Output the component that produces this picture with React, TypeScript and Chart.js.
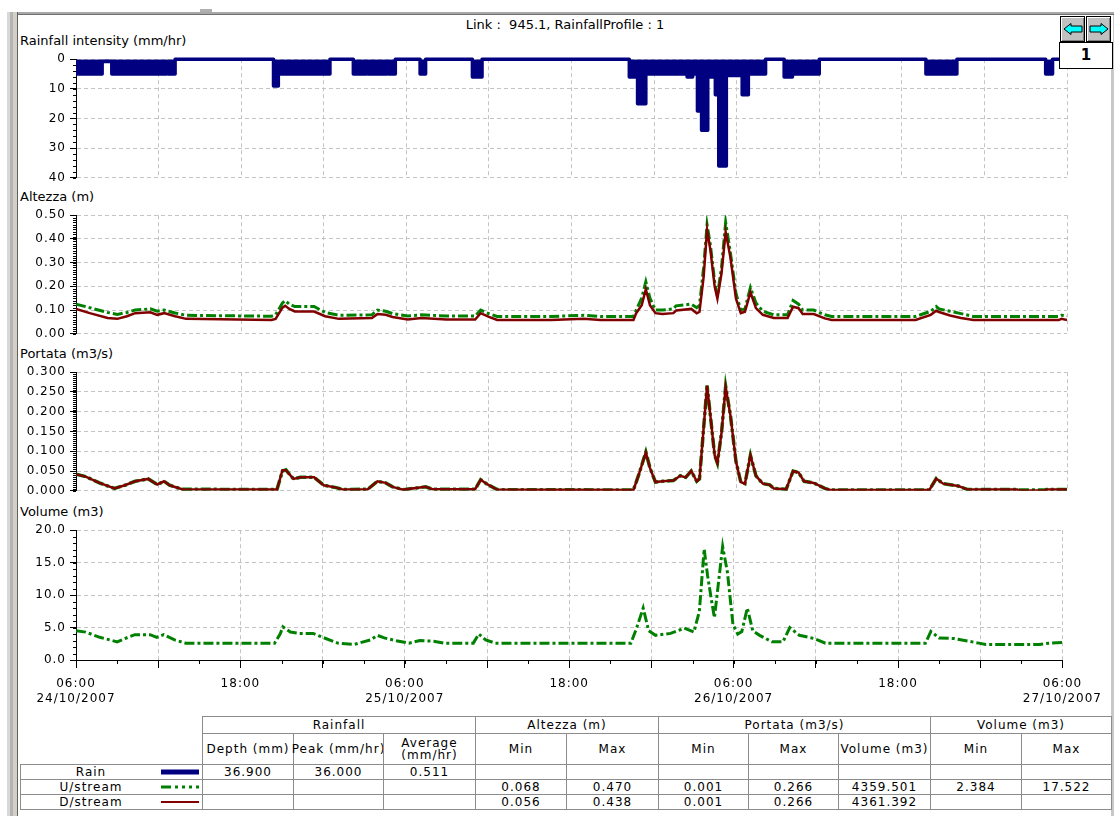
import React, { useEffect, useRef } from 'react';
import { Chart, registerables } from 'chart.js';

Chart.register(...registerables);

const FONT = "'DejaVu Sans', Verdana, sans-serif";

// ---------------- data (hours from 06:00 24/10/2007) ----------------
const rainHours = [0, 1.9, 2.6, 6.6, 6.7, 7.2, 14.35, 14.7, 18.45, 20.15,
  21.1, 21.2, 22.6, 22.7, 23.2, 25.0, 25.4, 28.8, 29.5, 40.2,
  40.8, 41.4, 44.4, 44.8, 45.15, 45.45, 45.9, 46.05, 46.45, 46.7,
  47.25, 48.4, 48.85, 50.1, 51.45, 52.05, 54.0, 61.75, 64.0, 70.45,
  70.95, 72];
const rainIntensity = [5, 0.8, 5, 2, 5, 0, 9, 5, 0, 5,
  2, 5, 2, 5, 0, 5, 0, 6, 0, 6,
  15, 5, 6, 5, 17.5, 24, 5, 6, 12, 36,
  5.5, 12, 5, 0, 6, 5, 0, 5, 0, 5,
  0, 0];

const altezzaHours = [0, 1.0, 2.3, 3.0, 3.7, 4.3, 5.4, 5.9, 6.4, 7.2,
  8.0, 14.2, 14.5, 15.0, 15.2, 15.5, 15.9, 17.3, 18.1, 19.1,
  21.5, 21.9, 22.5, 23.0, 24.1, 25.1, 26.9, 29.0, 29.4, 30.0,
  30.6, 34.5, 36.9, 38.1, 40.5, 40.7, 41.1, 41.4, 41.7, 42.1,
  42.6, 43.4, 43.6, 44.7, 45.1, 45.3, 45.6, 45.85, 46.1, 46.4,
  46.6, 46.9, 47.2, 47.55, 47.95, 48.3, 48.6, 49.0, 49.4, 49.9,
  50.7, 51.7, 52.1, 52.5, 52.8, 53.6, 54.4, 54.9, 61.0, 62.1,
  62.5, 62.7, 63.5, 64.3, 65.2, 71.4, 71.6, 72];
const altezzaDs = [0.105, 0.087, 0.067, 0.063, 0.074, 0.087, 0.091, 0.080, 0.087, 0.074,
  0.063, 0.058, 0.063, 0.110, 0.118, 0.105, 0.094, 0.094, 0.074, 0.063,
  0.067, 0.083, 0.080, 0.071, 0.060, 0.067, 0.060, 0.060, 0.087, 0.071,
  0.058, 0.058, 0.063, 0.058, 0.058, 0.087, 0.120, 0.188, 0.120, 0.087,
  0.083, 0.087, 0.098, 0.105, 0.087, 0.093, 0.240, 0.438, 0.350, 0.200,
  0.148, 0.255, 0.430, 0.320, 0.148, 0.087, 0.093, 0.175, 0.108, 0.080,
  0.067, 0.067, 0.114, 0.108, 0.083, 0.083, 0.065, 0.058, 0.058, 0.080,
  0.097, 0.092, 0.077, 0.067, 0.058, 0.058, 0.063, 0.058];
const altezzaUs = [0.125, 0.110, 0.090, 0.082, 0.090, 0.100, 0.105, 0.095, 0.100, 0.088,
  0.078, 0.074, 0.080, 0.130, 0.140, 0.125, 0.115, 0.115, 0.090, 0.078,
  0.080, 0.100, 0.095, 0.085, 0.075, 0.080, 0.075, 0.075, 0.100, 0.085,
  0.073, 0.073, 0.078, 0.073, 0.073, 0.100, 0.150, 0.220, 0.150, 0.100,
  0.100, 0.105, 0.118, 0.125, 0.110, 0.120, 0.280, 0.460, 0.370, 0.220,
  0.160, 0.280, 0.470, 0.340, 0.170, 0.100, 0.105, 0.195, 0.130, 0.095,
  0.080, 0.080, 0.140, 0.125, 0.100, 0.100, 0.080, 0.073, 0.073, 0.095,
  0.115, 0.105, 0.095, 0.085, 0.073, 0.073, 0.078, 0.075];

const portataHours = [0, 0.7, 1.7, 2.8, 3.55, 4.3, 5.25, 5.9, 6.4, 6.8,
  7.7, 14.6, 15.0, 15.25, 15.8, 16.3, 17.3, 18.0, 18.9, 19.4,
  21.2, 21.9, 22.5, 23.0, 23.8, 25.4, 25.9, 29.0, 29.4, 29.9,
  30.6, 40.5, 40.9, 41.4, 41.7, 42.1, 42.6, 43.4, 43.9, 44.3,
  44.7, 45.1, 45.3, 45.85, 46.1, 46.4, 46.6, 46.9, 47.2, 47.55,
  47.95, 48.3, 48.6, 49.0, 49.4, 49.9, 50.4, 50.7, 51.6, 52.1,
  52.5, 52.9, 53.6, 54.4, 54.8, 62.0, 62.5, 63.0, 64.1, 64.8,
  68.4, 68.5, 70.4, 70.5, 72];
const portataDs = [0.042, 0.036, 0.020, 0.006, 0.014, 0.024, 0.030, 0.016, 0.024, 0.014,
  0.004, 0.003, 0.052, 0.052, 0.030, 0.034, 0.034, 0.014, 0.008, 0.003,
  0.004, 0.024, 0.020, 0.010, 0.003, 0.010, 0.004, 0.004, 0.028, 0.016,
  0.003, 0.002, 0.042, 0.097, 0.058, 0.022, 0.024, 0.026, 0.038, 0.034,
  0.050, 0.024, 0.030, 0.266, 0.187, 0.090, 0.070, 0.147, 0.262, 0.190,
  0.074, 0.022, 0.018, 0.090, 0.038, 0.018, 0.015, 0.006, 0.004, 0.050,
  0.046, 0.024, 0.020, 0.006, 0.002, 0.002, 0.031, 0.018, 0.012, 0.003,
  0.003, 0.001, 0.001, 0.003, 0.003];
const portataUs = [0.042, 0.036, 0.020, 0.006, 0.014, 0.024, 0.030, 0.016, 0.024, 0.014,
  0.004, 0.003, 0.050, 0.053, 0.030, 0.034, 0.034, 0.014, 0.008, 0.003,
  0.004, 0.024, 0.020, 0.010, 0.003, 0.010, 0.004, 0.004, 0.028, 0.016,
  0.003, 0.002, 0.042, 0.098, 0.058, 0.022, 0.024, 0.026, 0.038, 0.034,
  0.050, 0.024, 0.030, 0.266, 0.187, 0.090, 0.070, 0.147, 0.264, 0.190,
  0.074, 0.022, 0.018, 0.090, 0.038, 0.018, 0.015, 0.006, 0.004, 0.050,
  0.046, 0.024, 0.020, 0.006, 0.002, 0.002, 0.031, 0.018, 0.012, 0.003,
  0.003, 0.002, 0.002, 0.003, 0.003];

const volumeHours = [0, 0.7, 1.74, 3.0, 3.8, 4.3, 5.4, 5.9, 6.4, 7.2,
  8.0, 14.5, 14.9, 15.1, 15.65, 16.3, 17.3, 18.0, 19.1, 20.3,
  21.5, 22.0, 22.5, 23.3, 24.3, 25.1, 26.1, 26.9, 29.0, 29.4,
  29.9, 30.6, 40.5, 40.9, 41.4, 41.8, 42.3, 43.4, 44.4, 45.1,
  45.5, 45.85, 46.1, 46.4, 46.6, 46.9, 47.2, 47.55, 47.95, 48.3,
  48.6, 49.0, 49.4, 49.9, 50.8, 51.6, 52.1, 52.8, 53.9, 54.7,
  62.0, 62.4, 63.0, 64.1, 65.9, 66.4, 70.3, 71.1, 72];
const volumeUs = [4.5, 4.3, 3.5, 2.8, 3.5, 3.9, 3.9, 3.5, 3.9, 3.1,
  2.6, 2.6, 4.0, 5.1, 4.3, 4.1, 4.1, 3.5, 2.6, 2.4,
  3.1, 3.8, 3.4, 3.0, 2.6, 3.0, 2.9, 2.6, 2.6, 4.0,
  3.1, 2.6, 2.6, 4.8, 8.0, 4.5, 3.8, 4.1, 4.9, 4.3,
  7.5, 17.1, 13.0, 9.0, 6.5, 12.0, 17.5, 13.5, 5.5, 4.0,
  4.4, 8.0, 4.5, 3.8, 2.8, 2.8, 5.0, 3.8, 3.3, 2.6,
  2.6, 4.4, 3.4, 3.3, 2.6, 2.4, 2.4, 2.6, 2.7];

const xTickTimes = ['06:00', '18:00'];
const xTickDates = ['24/10/2007', '25/10/2007', '26/10/2007', '27/10/2007'];

const tableGroups = [
  { label: 'Rainfall', span: 3 },
  { label: 'Altezza (m)', span: 2 },
  { label: 'Portata (m3/s)', span: 3 },
  { label: 'Volume (m3)', span: 2 },
];
const tableColumns = ['Depth (mm)', 'Peak (mm/hr)', 'Average\n(mm/hr)', 'Min', 'Max', 'Min', 'Max', 'Volume (m3)', 'Min', 'Max'];
const tableRowNames = ['Rain', 'U/stream', 'D/stream'];
const tableRowValues = [
  ['36.900', '36.000', '0.511', '', '', '', '', '', '', ''],
  ['', '', '', '0.068', '0.470', '0.001', '0.266', '4359.501', '2.384', '17.522'],
  ['', '', '', '0.056', '0.438', '0.001', '0.266', '4361.392', '', ''],
];

// ---------------- helpers ----------------
const pts = (xs: number[], ys: number[]) => xs.map((x, i) => ({ x, y: ys[i] }));

const GRID = '#c4c4c4';
const DASH = [4, 3];

const minorTicksPlugin = {
  id: 'minorTicks',
  beforeUpdate(chart: any) { chart.ctx.letterSpacing = '1px'; },
  beforeDraw(chart: any) { chart.ctx.letterSpacing = '1px'; },
  afterDraw(chart: any, _a: any, opts: any) {
    const ctx = chart.ctx;
    const ys = chart.scales.y;
    const xs = chart.scales.x;
    ctx.save();
    ctx.strokeStyle = '#000';
    ctx.lineWidth = 1;
    const n = Math.round((opts.yMax - opts.yMin) / opts.yMinor);
    for (let i = 0; i <= n; i++) {
      const py = Math.round(ys.getPixelForValue(opts.yMin + i * opts.yMinor)) + 0.5;
      ctx.beginPath();
      ctx.moveTo(ys.right - 3, py);
      ctx.lineTo(ys.right, py);
      ctx.stroke();
    }
    if (opts.xMinor) {
      for (let h = xs.min; h <= xs.max; h += opts.xMinor) {
        const px = Math.round(xs.getPixelForValue(h)) + 0.5;
        ctx.beginPath();
        ctx.moveTo(px, xs.top);
        ctx.lineTo(px, xs.top + 4);
        ctx.stroke();
      }
    }
    ctx.restore();
  },
};

const xLabel = (v: any) => {
  const h = Number(v);
  if (h % 24 === 0) return [xTickTimes[0], xTickDates[h / 24]];
  if (h % 24 === 12) return xTickTimes[1];
  return '';
};

type Spec = {
  yMin: number; yMax: number; yStep: number; yMinor: number; decimals: number;
  reverse?: boolean; showX?: boolean; datasets: any[];
};

function makeConfig(s: Spec): any {
  const showX = !!s.showX;
  return {
    type: 'line',
    data: { datasets: s.datasets },
    plugins: [minorTicksPlugin],
    options: {
      responsive: false,
      animation: false,
      devicePixelRatio: 1,
      events: [],
      layout: { padding: { left: 0, right: 43, top: 8, bottom: showX ? 0 : 8 } },
      plugins: {
        legend: { display: false },
        tooltip: { enabled: false },
        minorTicks: { yMin: s.yMin, yMax: s.yMax, yMinor: s.yMinor, xMinor: showX ? 3 : 0 },
      },
      elements: { point: { radius: 0 }, line: { tension: 0 } },
      scales: {
        x: {
          type: 'linear', min: 0, max: 72,
          afterFit: (sc: any) => { sc.height = showX ? 44 : 0; },
          ticks: {
            display: showX, stepSize: 6, autoSkip: false, maxRotation: 0, minRotation: 0, padding: 8,
            color: '#000', font: { family: FONT, size: 12, lineHeight: 1.25 }, callback: xLabel,
          },
          grid: { color: GRID, drawTicks: showX, tickLength: 8, tickColor: '#000' },
          border: { display: showX, color: '#000', width: 1, dash: DASH },
        },
        y: {
          type: 'linear', min: s.yMin, max: s.yMax, reverse: !!s.reverse,
          afterFit: (sc: any) => { sc.width = 58; },
          ticks: {
            stepSize: s.yStep, padding: 4, color: '#000',
            font: { family: FONT, size: 12 },
            callback: (v: any) => Number(v).toFixed(s.decimals),
          },
          grid: { color: GRID, tickLength: 6, tickColor: '#000' },
          border: { display: true, color: '#000', width: 1, dash: DASH },
        },
      },
    },
  };
}

const RED = '#800000';
const GREEN = '#008000';
const NAVY = '#000080';
const GREEN_DASH = [10, 3, 3, 3];

function ChartPanel({ top, height, spec }: { top: number; height: number; spec: Spec }) {
  const ref = useRef<HTMLCanvasElement>(null);
  useEffect(() => {
    const chart = new Chart(ref.current as HTMLCanvasElement, makeConfig(spec));
    return () => chart.destroy();
  }, []);
  return (
    <canvas ref={ref} width={1092} height={height}
      style={{ position: 'absolute', left: 18, top, width: 1092, height }} />
  );
}

const rainSpec: Spec = {
  yMin: 0, yMax: 40, yStep: 10, yMinor: 2, decimals: 0, reverse: true,
  datasets: [{
    data: pts(rainHours, rainIntensity), borderColor: NAVY, backgroundColor: NAVY,
    borderWidth: 3.5, stepped: true, fill: 'origin', borderJoinStyle: 'round', borderCapStyle: 'round',
    clip: { left: 0, right: 2, top: 6, bottom: 6 },
  }],
};
const altezzaSpec: Spec = {
  yMin: 0, yMax: 0.5, yStep: 0.1, yMinor: 0.01, decimals: 2,
  datasets: [
    { data: pts(altezzaHours, altezzaDs), borderColor: RED, borderWidth: 2.5, fill: false },
    { data: pts(altezzaHours, altezzaUs), borderColor: GREEN, borderWidth: 3, borderDash: GREEN_DASH, fill: false },
  ],
};
const portataSpec: Spec = {
  yMin: 0, yMax: 0.3, yStep: 0.05, yMinor: 0.005, decimals: 3,
  datasets: [
    { data: pts(portataHours, portataDs), borderColor: RED, borderWidth: 2.5, fill: false },
    { data: pts(portataHours, portataUs), borderColor: GREEN, borderWidth: 3.5, borderDash: GREEN_DASH, fill: false },
  ],
};
const volumeSpec: Spec = {
  yMin: 0, yMax: 20, yStep: 5, yMinor: 1, decimals: 1, showX: true,
  datasets: [
    { data: pts(volumeHours, volumeUs), borderColor: GREEN, borderWidth: 3, borderDash: GREEN_DASH, fill: false },
  ],
};

// ---------------- table ----------------
const colEdges = [202, 293, 383, 475, 566, 658, 748, 838, 930, 1021, 1111];
const BORDER = '1px solid #8c8c8c';

function Cell({ x, y, w, h, children, lh = 12 }: any) {
  return (
    <div style={{
      position: 'absolute', left: x, top: y, width: w + 1, height: h + 1, boxSizing: 'border-box',
      border: BORDER, display: 'flex', alignItems: 'center', justifyContent: 'center', textAlign: 'center',
      fontSize: 12, letterSpacing: 1, lineHeight: lh + 'px', whiteSpace: 'pre', color: '#000',
    }}>{children}</div>
  );
}

function Swatch({ kind }: { kind: number }) {
  return (
    <svg width={38} height={8} style={{ position: 'absolute', left: 140, top: 3 }}>
      {kind === 0 && <rect x={0} y={1.5} width={38} height={5} fill={NAVY} />}
      {kind === 1 && <line x1={0} y1={4} x2={38} y2={4} stroke={GREEN} strokeWidth={3} strokeDasharray="10 4 3 4 3 4 3 4" />}
      {kind === 2 && <line x1={0} y1={4} x2={38} y2={4} stroke={RED} strokeWidth={2} />}
    </svg>
  );
}

function StatsTable() {
  const cells: any[] = [];
  let ci = 0;
  tableGroups.forEach((g, gi) => {
    const x0 = colEdges[ci];
    const x1 = colEdges[ci + g.span];
    cells.push(<Cell key={'g' + gi} x={x0} y={716} w={x1 - x0} h={17}>{g.label}</Cell>);
    ci += g.span;
  });
  tableColumns.forEach((c, i) => {
    cells.push(<Cell key={'c' + i} x={colEdges[i]} y={733} w={colEdges[i + 1] - colEdges[i]} h={31}>{c}</Cell>);
  });
  tableRowNames.forEach((name, r) => {
    const y = 764 + r * 15;
    cells.push(
      <div key={'n' + r} style={{
        position: 'absolute', left: 20, top: y, width: 183, height: 16, boxSizing: 'border-box', border: BORDER,
        fontSize: 12, letterSpacing: 1, lineHeight: '14px', color: '#000',
      }}>
        <div style={{ position: 'absolute', left: 0, width: 140, textAlign: 'center' }}>{name}</div>
        <Swatch kind={r} />
      </div>
    );
    tableRowValues[r].forEach((v, i) => {
      cells.push(<Cell key={'v' + r + '_' + i} x={colEdges[i]} y={y} w={colEdges[i + 1] - colEdges[i]} h={15} lh={14}>{v}</Cell>);
    });
  });
  return <>{cells}</>;
}

function Arrow({ dir }: { dir: number }) {
  const p = dir < 0 ? '1,6 8,0.5 8,3 19,3 19,9 8,9 8,11.5' : '19,6 12,0.5 12,3 1,3 1,9 12,9 12,11.5';
  return (
    <svg width={20} height={12} style={{ position: 'absolute', left: 2, top: 6 }}>
      <polygon points={p} fill="#00ffff" stroke="#000" strokeWidth={1} />
    </svg>
  );
}

const panelLabel = (text: string, top: number) => (
  <div style={{ position: 'absolute', left: 20, top, fontSize: 13, lineHeight: '15px', color: '#000', whiteSpace: 'pre' }}>{text}</div>
);

export default function App() {
  return (
    <div style={{ position: 'absolute', left: 0, top: 0, width: 1114, height: 816, background: '#fff', overflow: 'hidden', fontFamily: FONT }}>
      {/* window frame */}
      <div style={{ position: 'absolute', left: 7, top: 12, width: 3, height: 804, background: '#d8d8d8' }} />
      <div style={{ position: 'absolute', left: 10, top: 12, width: 3, height: 804, background: '#b4b4b4' }} />
      <div style={{ position: 'absolute', left: 13, top: 12, width: 4, height: 804, background: '#d4d0c8' }} />
      <div style={{ position: 'absolute', left: 17, top: 12, width: 1, height: 804, background: '#606060' }} />
      <div style={{ position: 'absolute', left: 18, top: 12, width: 1096, height: 2, background: '#a8a8a8' }} />
      <div style={{ position: 'absolute', left: 18, top: 14, width: 1096, height: 1, background: '#707070' }} />
      <div style={{ position: 'absolute', left: 200, top: 9, width: 12, height: 3, background: '#b0b0b0' }} />
      <div style={{ position: 'absolute', left: 1111, top: 15, width: 3, height: 801, background: '#c8c8c8' }} />

      <ChartPanel top={48} height={141} spec={rainSpec} />
      <ChartPanel top={204} height={141} spec={altezzaSpec} />
      <ChartPanel top={361} height={141} spec={portataSpec} />
      <ChartPanel top={519} height={185} spec={volumeSpec} />

      <div style={{ position: 'absolute', left: 365, top: 17, width: 400, textAlign: 'center', fontSize: 13, lineHeight: '15px', whiteSpace: 'pre', color: '#000' }}>
        {'Link :  945.1, RainfallProfile : 1'}
      </div>
      {panelLabel('Rainfall intensity (mm/hr)', 33)}
      {panelLabel('Altezza (m)', 189)}
      {panelLabel('Portata (m3/s)', 346)}
      {panelLabel('Volume (m3)', 504)}

      {/* navigation buttons */}
      <div style={{ position: 'absolute', left: 1059, top: 15, width: 54, height: 54, background: '#fff' }} />
      {[-1, 1].map((d, i) => (
        <div key={i} style={{
          position: 'absolute', left: 1060 + i * 26, top: 16, width: 25, height: 26, boxSizing: 'border-box',
          border: '1px solid #000', background: '#c0c0c0', boxShadow: 'inset 1px 1px #ffffff, inset -1px -1px #808080',
        }}><Arrow dir={d} /></div>
      ))}
      <div style={{
        position: 'absolute', left: 1059, top: 42, width: 54, height: 27, boxSizing: 'border-box', border: '1px solid #000',
        background: '#fff', textAlign: 'center', fontSize: 15, fontWeight: 'bold', lineHeight: '25px', color: '#000',
      }}>1</div>

      <StatsTable />
    </div>
  );
}
